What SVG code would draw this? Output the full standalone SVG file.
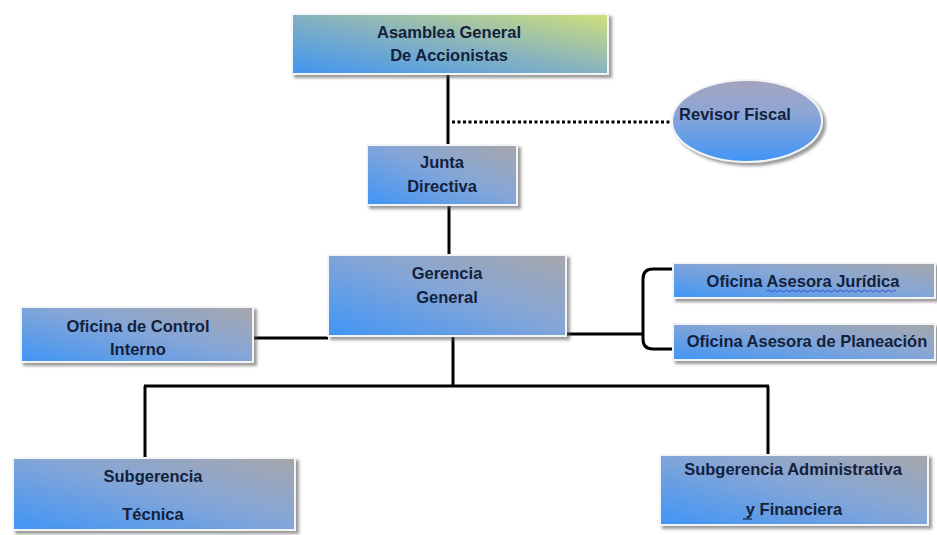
<svg xmlns="http://www.w3.org/2000/svg" width="937" height="535" viewBox="0 0 937 535">
<defs>
<linearGradient id="gBox" x1="0" y1="1" x2="1" y2="0">
<stop offset="0" stop-color="#3f95f6"/>
<stop offset="0.55" stop-color="#86a6d6"/>
<stop offset="1" stop-color="#a6a6aa"/>
</linearGradient>
<linearGradient id="gTop" x1="0" y1="1" x2="1" y2="0">
<stop offset="0" stop-color="#3f95f2"/>
<stop offset="0.5" stop-color="#86b2c0"/>
<stop offset="1" stop-color="#cfe07a"/>
</linearGradient>
<linearGradient id="gEll" x1="0" y1="0" x2="0" y2="1">
<stop offset="0" stop-color="#a4a4bc"/>
<stop offset="0.4" stop-color="#8ea6d6"/>
<stop offset="1" stop-color="#3f95f6"/>
</linearGradient>
<filter id="sh" x="-10%" y="-20%" width="125%" height="150%">
<feDropShadow dx="3" dy="3" stdDeviation="1.5" flood-color="#555" flood-opacity="0.6"/>
</filter>
<style>
.box{stroke:#f2f4f6;stroke-width:2;filter:url(#sh)}
.t{font-family:"Liberation Sans",Arial,sans-serif;font-weight:bold;font-size:16.5px;fill:#13213c;text-anchor:middle}
.c{fill:none;stroke:#000;stroke-width:3}
</style>
</defs>
<g id="connectors">
<path class="c" d="M448,74 V145"/>
<path class="c" d="M452,122 H672" stroke-dasharray="3,2.5"/>
<path class="c" d="M449,205 V255"/>
<path class="c" d="M453,336 V386"/>
<path class="c" d="M144,386 H769"/>
<path class="c" d="M145,386 V458"/>
<path class="c" d="M768,386 V455"/>
<path class="c" d="M253,338 H328"/>
<path class="c" d="M566,334 H643"/>
<path class="c" d="M674,269 H653 Q643,269 643,279 V339 Q643,349 653,349 H674"/>
</g>
<g id="asamblea">
<rect class="box" x="292" y="14" width="316" height="60" fill="url(#gTop)"/>
<text class="t" x="449" y="38">Asamblea General</text>
<text class="t" x="449" y="61">De Accionistas</text>
</g>
<g id="revisor">
<ellipse cx="747" cy="121" rx="75" ry="41" fill="url(#gEll)" stroke="#f2f4f6" stroke-width="2" filter="url(#sh)"/>
<text class="t" x="735" y="120">Revisor Fiscal</text>
</g>
<g id="junta">
<rect class="box" x="367" y="145" width="150" height="60" fill="url(#gBox)"/>
<text class="t" x="442" y="168">Junta</text>
<text class="t" x="442" y="192">Directiva</text>
</g>
<g id="gerencia">
<rect class="box" x="328" y="255" width="238" height="81" fill="url(#gBox)"/>
<text class="t" x="447" y="279">Gerencia</text>
<text class="t" x="447" y="303">General</text>
</g>
<g id="control">
<rect class="box" x="21" y="307" width="232" height="55" fill="url(#gBox)"/>
<text class="t" x="138" y="332">Oficina de Control</text>
<text class="t" x="138" y="355">Interno</text>
</g>
<g id="juridica">
<rect class="box" x="673" y="263" width="262" height="35" fill="url(#gBox)"/>
<text class="t" x="803" y="287">Oficina Asesora  Jurídica</text>
<path d="M767,291 q1.5,-2 3,0 t3,0 t3,0 t3,0 t3,0 t3,0 t3,0 t3,0 t3,0 t3,0 t3,0 t3,0 t3,0 t3,0 t3,0 t3,0 t3,0 t3,0 t3,0 t3,0 t3,0 t3,0 t3,0 t3,0 t3,0 t3,0 t3,0 t3,0 t3,0 t3,0 t3,0 t3,0 t3,0 t3,0 t3,0 t3,0 t3,0 t3,0 t3,0 t3,0 t3,0 t3,0 t3,0" fill="none" stroke="#3050d0" stroke-width="1"/>
</g>
<g id="planeacion">
<rect class="box" x="673" y="324" width="262" height="36" fill="url(#gBox)"/>
<text class="t" x="807" y="347">Oficina Asesora de Planeación</text>
</g>
<g id="tecnica">
<rect class="box" x="13" y="458" width="282" height="72" fill="url(#gBox)"/>
<text class="t" x="153" y="482">Subgerencia</text>
<text class="t" x="153" y="520">Técnica</text>
</g>
<g id="administrativa">
<rect class="box" x="660" y="455" width="268" height="70" fill="url(#gBox)"/>
<text class="t" x="793" y="475">Subgerencia Administrativa</text>
<text class="t" x="794" y="515">y  Financiera</text>
<path d="M743,519 H752" stroke="#13213c" stroke-width="1.2"/>
</g>
</svg>
